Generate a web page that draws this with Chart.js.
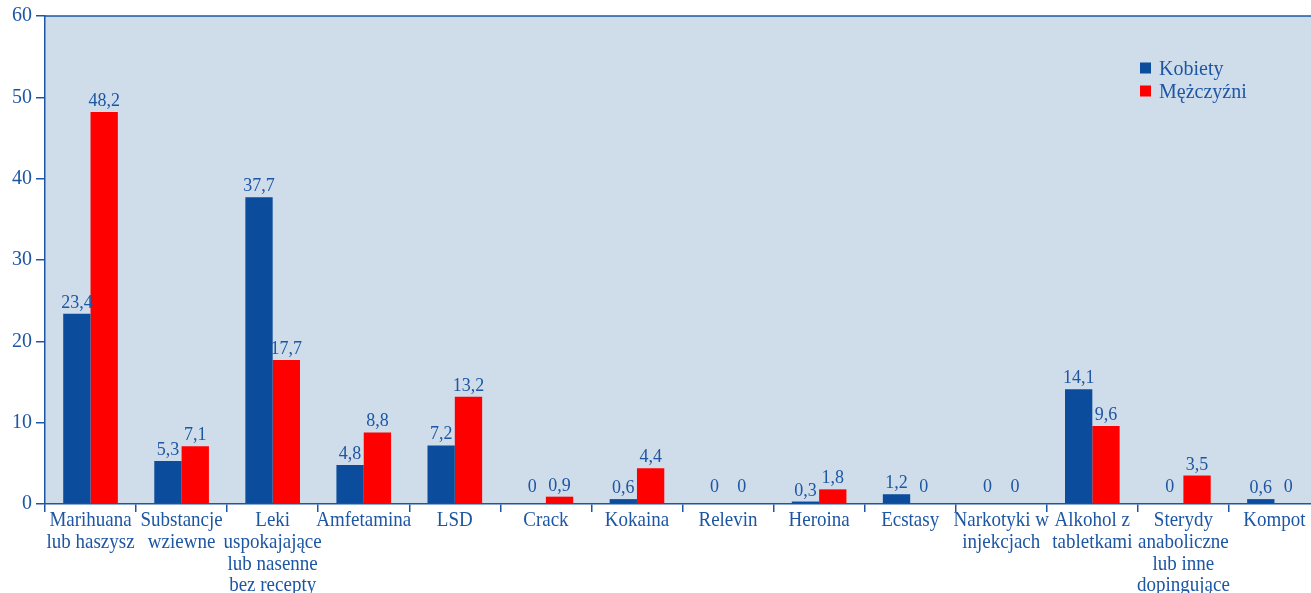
<!DOCTYPE html>
<html>
<head>
<meta charset="utf-8">
<script src="https://cdn.jsdelivr.net/npm/chart.js@4/dist/chart.umd.min.js"></script>
<style>
    html, body { margin: 0; padding: 0; background: #ffffff; overflow: hidden; }
    /* the plot runs a little past the right edge of the page */
    #wrap { width: 1311px; height: 593px; overflow: hidden; }
</style>
</head>
<body>
<div id="wrap"><canvas id="chart" width="1320" height="593"></canvas></div>
<script>
var categories = [
    ['Marihuana', 'lub haszysz'],
    ['Substancje', 'wziewne'],
    ['Leki', 'uspokajające', 'lub nasenne', 'bez recepty'],
    'Amfetamina',
    'LSD',
    'Crack',
    'Kokaina',
    'Relevin',
    'Heroina',
    'Ecstasy',
    ['Narkotyki w', 'injekcjach'],
    ['Alkohol z', 'tabletkami'],
    ['Sterydy', 'anaboliczne', 'lub inne', 'dopingujące'],
    'Kompot'
];
var kobiety = [23.4, 5.3, 37.7, 4.8, 7.2, 0, 0.6, 0, 0.3, 1.2, 0, 14.1, 0, 0.6];
var mezczyzni = [48.2, 7.1, 17.7, 8.8, 13.2, 0.9, 4.4, 0, 1.8, 0, 0, 9.6, 3.5, 0];
var yTicks = [0, 10, 20, 30, 40, 50, 60];

var INK = '#1d56a3';
var FONT = '"Liberation Serif", "Times New Roman", serif';

function formatValue(v) {
    return String(v).replace('.', ',');
}

// text a bit taller than wide, like a condensed Times
function tallText(ctx, text, x, y, stretch) {
    ctx.save();
    ctx.translate(x, y);
    ctx.scale(1, stretch);
    ctx.fillText(text, 0, 0);
    ctx.restore();
}

// plot fill, top frame line, category names, value labels and the legend box
var decorations = {
    id: 'decorations',
    beforeDraw: function (chart) {
        var a = chart.chartArea;
        var ctx = chart.ctx;
        ctx.save();
        ctx.fillStyle = '#cfdcea';
        ctx.fillRect(a.left, a.top, a.right - a.left, a.bottom - a.top);
        ctx.restore();
    },
    afterDraw: function (chart) {
        var a = chart.chartArea;
        var ctx = chart.ctx;
        var xScale = chart.scales.x;
        ctx.save();
        ctx.strokeStyle = INK;
        ctx.lineWidth = 1.5;
        ctx.beginPath();
        ctx.moveTo(a.left, a.top);
        ctx.lineTo(a.right, a.top);
        ctx.stroke();

        ctx.fillStyle = INK;
        ctx.textAlign = 'center';
        ctx.textBaseline = 'alphabetic';

        ctx.font = '19px ' + FONT;
        chart.data.labels.forEach(function (label, i) {
            var lines = [].concat(label);
            var x = xScale.getPixelForTick(i);
            lines.forEach(function (line, k) {
                tallText(ctx, line, x, a.bottom + 22 + k * 21.8, 1.12);
            });
        });

        ctx.font = '18px ' + FONT;
        chart.data.datasets.forEach(function (ds, i) {
            var meta = chart.getDatasetMeta(i);
            meta.data.forEach(function (bar, j) {
                var v = ds.data[j];
                var gap = v === 0 ? 12 : 6;
                tallText(ctx, formatValue(v), bar.x, bar.y - gap, 1.1);
            });
        });

        ctx.font = '20px ' + FONT;
        ctx.textAlign = 'left';
        chart.data.datasets.forEach(function (ds, i) {
            var y = 68 + i * 23;
            ctx.fillStyle = ds.backgroundColor;
            ctx.fillRect(1140, y - 5.5, 11, 11);
            ctx.fillStyle = INK;
            tallText(ctx, ds.label, 1159, y + 7, 1.08);
        });
        ctx.restore();
    }
};

var chart = new Chart(document.getElementById('chart'), {
    type: 'bar',
    data: {
        labels: categories,
        datasets: [
            { label: 'Kobiety', data: kobiety, backgroundColor: '#0b4c9c' },
            { label: 'Mężczyźni', data: mezczyzni, backgroundColor: '#ff0000' }
        ]
    },
    options: {
        responsive: false,
        animation: false,
        events: [],
        layout: { padding: { top: 16, right: 0, left: 0, bottom: 0 } },
        datasets: {
            bar: { categoryPercentage: 0.6, barPercentage: 1.0 }
        },
        plugins: {
            legend: { display: false },
            tooltip: { enabled: false }
        },
        scales: {
            x: {
                grid: {
                    offset: true,
                    drawOnChartArea: false,
                    drawTicks: true,
                    tickLength: 8,
                    color: INK,
                    lineWidth: 1.5
                },
                border: { color: INK, width: 1.5 },
                ticks: {
                    autoSkip: false,
                    maxRotation: 0,
                    minRotation: 0,
                    padding: 0,
                    // names are painted by the decorations plugin
                    color: 'rgba(0,0,0,0)',
                    font: { family: FONT, size: 19, lineHeight: 1.14 }
                },
                afterFit: function (scale) { scale.height = 89; }
            },
            y: {
                min: 0,
                max: 60,
                afterBuildTicks: function (scale) {
                    scale.ticks = yTicks.map(function (v) { return { value: v }; });
                },
                grid: {
                    drawOnChartArea: false,
                    drawTicks: true,
                    tickLength: 9,
                    color: INK,
                    lineWidth: 1.5
                },
                border: { color: INK, width: 1.5 },
                ticks: {
                    padding: 4,
                    color: INK,
                    font: { family: FONT, size: 20 }
                },
                afterFit: function (scale) { scale.width = 45; }
            }
        }
    },
    plugins: [decorations]
});
</script>
</body>
</html>
